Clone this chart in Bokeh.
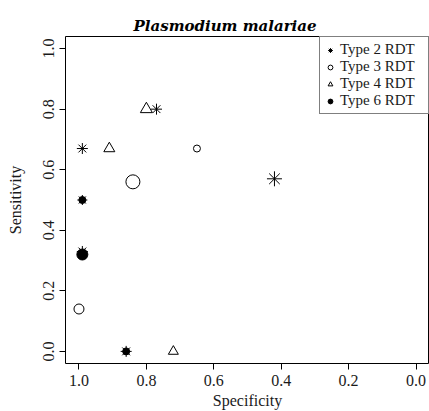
from bokeh.plotting import figure
from bokeh.models import Range1d, FixedTicker, Legend, LegendItem, ColumnDataSource
from bokeh.embed import file_html
from bokeh.resources import INLINE

# ---- data ----
type2_spec = [0.77, 0.42, 0.99, 0.99, 0.99, 0.86]
type2_sens = [0.80, 0.57, 0.67, 0.50, 0.33, 0.00]
type2_size = [11, 15, 11, 10, 11, 11]

type3_spec = [0.65, 0.84, 1.00]
type3_sens = [0.67, 0.56, 0.14]
type3_size = [7, 14, 10]

type4_spec = [0.80, 0.91, 0.72]
type4_sens = [0.80, 0.67, 0.00]
type4_size = [12, 11, 10]

type6_spec = [0.99, 0.99, 0.86]
type6_sens = [0.50, 0.32, 0.00]
type6_size = [7, 11, 7]

series_labels = ["Type 2 RDT", "Type 3 RDT", "Type 4 RDT", "Type 6 RDT"]
tick_values = [0.0, 0.2, 0.4, 0.6, 0.8, 1.0]
tick_labels = ["0.0", "0.2", "0.4", "0.6", "0.8", "1.0"]

SERIF = "Liberation Serif"

p = figure(width=429, height=411,
           x_range=Range1d(1.04, -0.04), y_range=Range1d(-0.04, 1.04),
           output_backend="svg", toolbar_location=None,
           min_border_left=65, min_border_right=0,
           min_border_top=36, min_border_bottom=48)

p.background_fill_color = "white"
p.border_fill_color = "white"
p.xgrid.visible = False
p.ygrid.visible = False
p.outline_line_color = "black"
p.outline_line_width = 1
p.outline_line_alpha = 1

p.title.text = "Plasmodium malariae"
p.title.align = "left"
p.title.offset = 68
p.title.text_font = "DejaVu Serif"
p.title.text_font_style = "bold italic"
p.title.text_font_size = "15px"
p.title.standoff = 3
p.title.text_color = "black"

overrides = {v: l for v, l in zip(tick_values, tick_labels)}
for ax in (p.xaxis[0], p.yaxis[0]):
    ax.ticker = FixedTicker(ticks=tick_values)
    ax.major_label_overrides = overrides
    ax.axis_line_color = None
    ax.major_tick_out = 6
    ax.major_tick_in = 0
    ax.major_tick_line_color = "black"
    ax.minor_tick_line_color = None
    ax.major_label_text_font = SERIF
    ax.major_label_text_font_size = "16px"
    ax.major_label_text_color = "#1a1a1a"
    ax.axis_label_text_font = SERIF
    ax.axis_label_text_font_size = "16px"
    ax.axis_label_text_font_style = "normal"
    ax.axis_label_text_color = "#1a1a1a"

p.xaxis.axis_label = "Specificity"
p.yaxis.axis_label = "Sensitivity"
p.xaxis.major_label_standoff = 5
p.xaxis.axis_label_standoff = 3
p.yaxis.major_label_orientation = "vertical"
p.yaxis.major_label_standoff = 5
p.yaxis.axis_label_standoff = 17

s2 = ColumnDataSource(dict(x=type2_spec, y=type2_sens, s=type2_size))
s3 = ColumnDataSource(dict(x=type3_spec, y=type3_sens, s=type3_size))
s4 = ColumnDataSource(dict(x=type4_spec, y=type4_sens, s=type4_size))
s6 = ColumnDataSource(dict(x=type6_spec, y=type6_sens, s=type6_size))

r2 = p.scatter("x", "y", size="s", source=s2, marker="asterisk",
               line_color="black", line_width=1)
r3 = p.scatter("x", "y", size="s", source=s3, marker="circle",
               line_color="black", fill_color=None, line_width=1)
r4 = p.scatter("x", "y", size="s", source=s4, marker="triangle",
               line_color="black", fill_color=None, line_width=1)
r6 = p.scatter("x", "y", size="s", source=s6, marker="circle",
               line_color="black", fill_color="black", line_width=1)

legend = Legend(items=[LegendItem(label=lab, renderers=[r])
                       for lab, r in zip(series_labels, [r2, r3, r4, r6])],
                location="top_right", margin=0, padding=4, spacing=0,
                glyph_width=12, glyph_height=16, label_standoff=4,
                label_height=16, label_width=84,
                label_text_font=SERIF, label_text_font_size="15px",
                label_text_color="#1a1a1a",
                border_line_color="black", border_line_width=1,
                background_fill_color="white", background_fill_alpha=1)
p.add_layout(legend)

open("out.html", "w").write(file_html(p, INLINE))
